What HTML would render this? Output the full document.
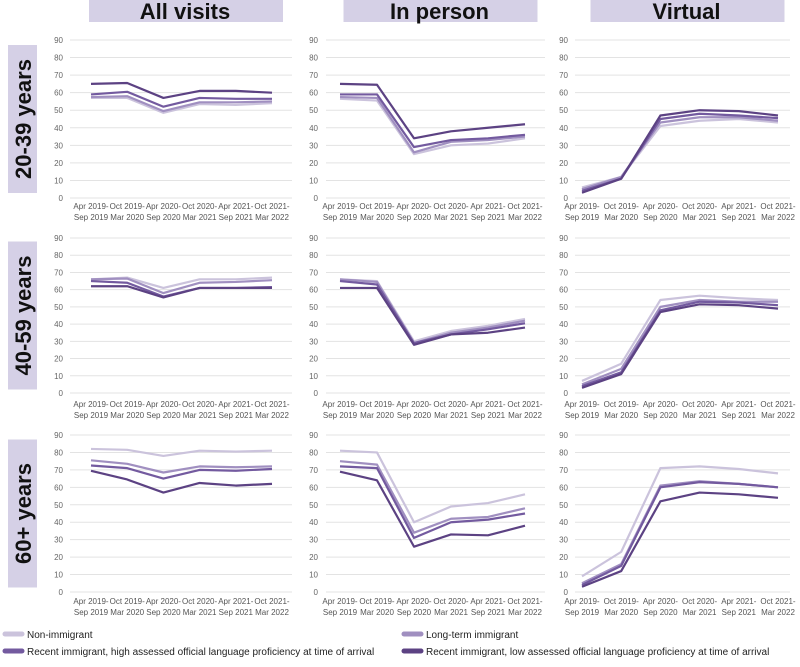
<!DOCTYPE html>
<html><head><meta charset="utf-8">
<style>
body{margin:0;background:#fff;width:800px;height:662px;overflow:hidden;font-family:"Liberation Sans",sans-serif}
svg text{font-family:"Liberation Sans",sans-serif}
</style></head>
<body>
<svg id="chart" width="800" height="662" xmlns="http://www.w3.org/2000/svg"></svg>
<script>
const periods=[["Apr 2019-","Sep 2019"],["Oct 2019-","Mar 2020"],["Apr 2020-","Sep 2020"],["Oct 2020-","Mar 2021"],["Apr 2021-","Sep 2021"],["Oct 2021-","Mar 2022"]];
const yTicks=[0,10,20,30,40,50,60,70,80,90];
const seriesNames=["Non-immigrant","Long-term immigrant","Recent immigrant, high assessed official language proficiency at time of arrival","Recent immigrant, low assessed official language proficiency at time of arrival"];
const columnTitles=["All visits","In person","Virtual"];
const rowTitles=["20-39 years","40-59 years","60+ years"];
// row 20-39
const r1All=[[57,57,48.5,53.5,53,54],[57.5,58,49.5,54.5,54.5,55],[59,60.5,52,57,56.5,56.5],[65,65.5,57,61,61,60]];
const r1Person=[[56.5,55.5,25,30,31,34],[57.5,57,26,32,33,35],[59,59,29,33,34,36],[65,64.5,34,38,40,42]];
const r1Virtual=[[6,12,41,44,45,43],[5,12,43,46,46,44],[4,11,45,48,47,45.5],[3,11,47,50,49.5,47]];
// row 40-59
const r2All=[[66,67,61,66,66,67],[66,66.5,58,64,64.5,65.5],[65,64,56,61,61,61.5],[62,62,55.5,61,61,61]];
const r2Person=[[66,65,30,36,39,43],[66,64.5,29,35,38,42],[65,63,29,34,37,40.5],[61,61,28,34,35,38]];
const r2Virtual=[[7,17,54,56.5,55,54],[5,14,50,54,53,53],[4,12,48,53,52.5,51],[3,11,47,51.5,51,49]];
// row 60+
const r3All=[[82,81.5,78,81,80.5,81],[75.5,73.5,68.5,72,71.5,72],[72.5,71,65,70,69.5,70.5],[69.5,64.5,57,62.5,61,62]];
const r3Person=[[81,80,40,49,51,56],[75,73,34,42,43,48],[72,71,31,40,41.5,45],[69,64,26,33,32.5,38]];
const r3Virtual=[[9,23,71,72,70.5,68],[5,16,61,63.5,62,60],[4,15,60,63,62,60],[3,12,52,57,56,54]];
const grid=[[r1All,r1Person,r1Virtual],[r2All,r2Person,r2Virtual],[r3All,r3Person,r3Virtual]];

const colors=["#cbc3dc","#a08fc0","#735a9f","#5c4283"];
const cols=[{g0:70,g1:292,p0:91,p1:272,lab:63},{g0:326,g1:545,p0:340,p1:525,lab:318},{g0:575,g1:790,p0:582,p1:778,lab:568}];
const rows=[{y90:40,y0:198,xl:209},{y90:238,y0:393,xl:407},{y90:435,y0:592,xl:604}];
const svg=document.getElementById('chart');
const NS="http://www.w3.org/2000/svg";
function mk(t,a,p){const e=document.createElementNS(NS,t);for(const k in a)e.setAttribute(k,a[k]);(p||svg).appendChild(e);return e;}

columnTitles.forEach((t,i)=>{
  const c=cols[i];const cx=(c.g0+c.g1)/2+4;
  const g=mk('g',{});
  
  
  mk('rect',{x:cx-96,y:0,width:194,height:22,fill:'#d5d0e6'},g);
  const tx=mk('text',{x:cx,y:19,'text-anchor':'middle','font-size':22,'font-weight':'bold',fill:'#111'},g);tx.textContent=t;
});
rowTitles.forEach((t,i)=>{
  const r=rows[i];const cy=(r.y90+r.y0)/2;
  const g=mk('g',{});
  
  
  mk('rect',{x:8,y:cy-74,width:29,height:148,fill:'#d5d0e6'},g);
  const tx=mk('text',{x:0,y:0,'text-anchor':'middle','font-size':22,'font-weight':'bold',fill:'#111',transform:`translate(31,${cy}) rotate(-90)`},g);tx.textContent=t;
});

rows.forEach((r,ri)=>{cols.forEach((c,ci)=>{
  const g=mk('g',{});
  
  
  const y=v=>r.y0-(v/90)*(r.y0-r.y90);
  const x=i=>c.p0+i*(c.p1-c.p0)/(periods.length-1);
  yTicks.forEach(t=>{
    const gl=mk('line',{x1:c.g0,x2:c.g1,y1:y(t),y2:y(t),stroke:'#e3e3e3','stroke-width':1},g);
    
    
    const tl=mk('text',{x:c.lab,y:y(t)+3,'text-anchor':'end','font-size':8,fill:'#666'},g);tl.textContent=t;
    
    
  });
  periods.forEach((p,i)=>{
    const t1=mk('text',{x:x(i),y:r.xl,'text-anchor':'middle','font-size':8,fill:'#555'},g);t1.textContent=p[0];
    
    
    const t2=mk('text',{x:x(i),y:r.xl+11,'text-anchor':'middle','font-size':8,fill:'#555'},g);t2.textContent=p[1];
    
    
  });
  grid[ri][ci].forEach((s,si)=>{
    const pl=mk('polyline',{points:s.map((v,i)=>x(i)+','+y(v)).join(' '),fill:'none',stroke:colors[si],'stroke-width':2.2,'stroke-linejoin':'round'},g);
    
    
  });
});});

const legPos=[[3,634],[402,634],[3,651],[402,651]];
seriesNames.forEach((n,i)=>{
  const g=mk('g',{});
  
  
  const [lx,ly]=legPos[i];
  mk('line',{x1:lx+2,x2:lx+19,y1:ly,y2:ly,stroke:colors[i],'stroke-width':5,'stroke-linecap':'round'},g);
  const t=mk('text',{x:lx+24,y:ly+4,'font-size':10,fill:'#222'},g);t.textContent=n;
});
</script>
</body></html>
